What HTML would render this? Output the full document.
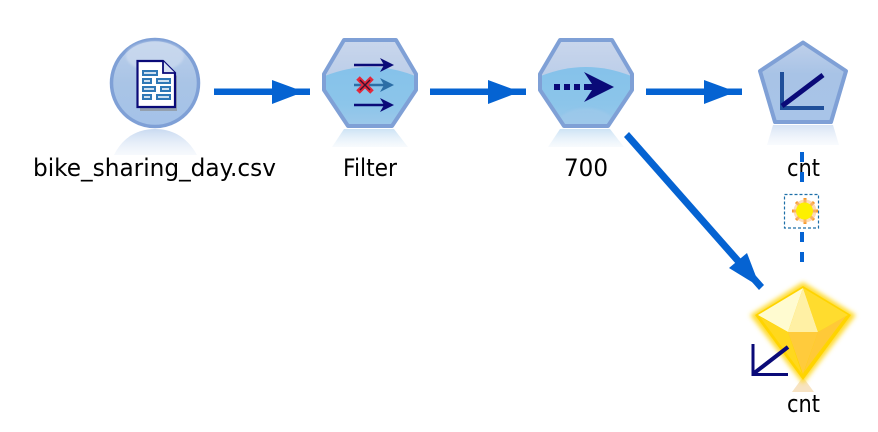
<!DOCTYPE html>
<html>
<head>
<meta charset="utf-8">
<style>
html,body{margin:0;padding:0;background:#fff;width:878px;height:432px;overflow:hidden}
svg{display:block}
text{font-family:"DejaVu Sans","Liberation Sans",sans-serif;font-size:24px;fill:#000;text-anchor:start}
</style>
</head>
<body>
<svg width="878" height="432" viewBox="0 0 878 432" xmlns="http://www.w3.org/2000/svg">
<defs>
  <linearGradient id="circ" x1="0" y1="0" x2="0" y2="1">
    <stop offset="0" stop-color="#bccfea"/><stop offset="0.5" stop-color="#a9c4e6"/><stop offset="1" stop-color="#a4c2e8"/>
  </linearGradient>
  <linearGradient id="hexTop" x1="0" y1="0" x2="0" y2="1">
    <stop offset="0" stop-color="#c9d6ec"/><stop offset="1" stop-color="#aac3e4"/>
  </linearGradient>
  <linearGradient id="hexLow" x1="0" y1="0" x2="0" y2="1">
    <stop offset="0" stop-color="#85c2ea"/><stop offset="0.6" stop-color="#8cc5ea"/><stop offset="1" stop-color="#a0c9ea"/>
  </linearGradient>
  <linearGradient id="pent" x1="0" y1="0" x2="0" y2="1">
    <stop offset="0" stop-color="#bfd0ea"/><stop offset="0.4" stop-color="#a8c3e6"/><stop offset="1" stop-color="#a8c4e8"/>
  </linearGradient>
  <linearGradient id="refl" x1="0" y1="0" x2="0" y2="1">
    <stop offset="0" stop-color="#c6d8f0" stop-opacity=".95"/><stop offset="1" stop-color="#eaf1fa" stop-opacity=".4"/>
  </linearGradient>
  <linearGradient id="refl2" x1="0" y1="0" x2="0" y2="1">
    <stop offset="0" stop-color="#c8e0f4" stop-opacity=".9"/><stop offset="1" stop-color="#eef5fb" stop-opacity=".45"/>
  </linearGradient>
  <filter id="glow" x="-30%" y="-30%" width="160%" height="160%"><feGaussianBlur stdDeviation="2.500"/></filter>
  <filter id="soft" x="-30%" y="-30%" width="160%" height="160%"><feGaussianBlur stdDeviation="1"/></filter>
  <clipPath id="hexClip"><polygon points="344,40 396,40 416,74 416,90 392,126 348,126 324,90 324,74"/></clipPath>
  <clipPath id="hexClip2"><polygon points="560,40 612,40 632,74 632,90 608,126 564,126 540,90 540,74"/></clipPath>
</defs>

<!-- Source node -->
<path d="M114,155 C124,135 140,129 155,129 C170,129 186,135 197,155 Z" fill="url(#refl)"/>
<circle cx="155" cy="83" r="43.500" fill="url(#circ)" stroke="#7fa0d6" stroke-width="3.500"/>
<ellipse cx="155" cy="56" rx="29" ry="15" fill="#d4e0f2" opacity=".55" filter="url(#soft)"/>
<polygon points="138,62 163,62 175,74 175,109 138,109" fill="#888" transform="translate(2,2)" opacity=".6"/>
<polygon points="137.500,61 163,61 175,73 175,107 137.500,107" fill="#fff" stroke="#0a0a78" stroke-width="2.200"/>
<polyline points="163,61 163,73 175,73" fill="#d7e2f2" stroke="#0a0a78" stroke-width="1.800"/>
<g fill="#cfe0f0" stroke="#2f78b6" stroke-width="2">
  <rect x="143" y="71" width="14" height="4"/>
  <rect x="143" y="79" width="8" height="4"/>
  <rect x="157" y="79" width="13" height="4"/>
  <rect x="143" y="87" width="12" height="4"/>
  <rect x="161" y="87" width="9" height="4"/>
  <rect x="143" y="95" width="8" height="4"/>
  <rect x="157" y="95" width="13" height="4"/>
</g>

<!-- Filter node -->
<polygon points="344,129 394,129 408,147 332,147" fill="url(#refl2)"/>
<polygon points="344,40 396,40 416,74 416,90 392,126 348,126 324,90 324,74" fill="url(#hexTop)"/>
<g clip-path="url(#hexClip)">
  <path d="M320,78 Q370,56 420,78 L420,130 L320,130 Z" fill="url(#hexLow)"/>
</g>
<polygon points="344,40 396,40 416,74 416,90 392,126 348,126 324,90 324,74" fill="none" stroke="#7fa0d6" stroke-width="4" stroke-linejoin="round"/>
<g stroke="#0a0a78" stroke-width="2.400" fill="none">
  <line x1="354" y1="65" x2="386" y2="65"/>
  <line x1="354" y1="105" x2="386" y2="105"/>
</g>
<g fill="#0a0a78">
  <polygon points="380,58 394,65 380,72 384,65"/>
  <polygon points="380,98 394,105 380,112 384,105"/>
</g>
<line x1="354" y1="85" x2="386" y2="85" stroke="#2c6ea6" stroke-width="2.400"/>
<polygon points="380,78 394,85 380,92 384,85" fill="#2c6ea6"/>
<g stroke="#e3283c" stroke-width="5">
  <line x1="358" y1="78" x2="372" y2="92"/>
  <line x1="372" y1="78" x2="358" y2="92"/>
</g>
<g stroke="#3a1030" stroke-width="1.400">
  <line x1="360" y1="80" x2="370" y2="90"/>
  <line x1="370" y1="80" x2="360" y2="90"/>
</g>

<!-- 700 node -->
<polygon points="560,129 610,129 624,147 548,147" fill="url(#refl2)"/>
<polygon points="560,40 612,40 632,74 632,90 608,126 564,126 540,90 540,74" fill="url(#hexTop)"/>
<g clip-path="url(#hexClip2)">
  <path d="M536,78 Q586,56 636,78 L636,130 L536,130 Z" fill="url(#hexLow)"/>
  <ellipse cx="586" cy="124" rx="28" ry="16" fill="#a0c9ea" opacity=".6" filter="url(#soft)"/>
</g>
<polygon points="560,40 612,40 632,74 632,90 608,126 564,126 540,90 540,74" fill="none" stroke="#7fa0d6" stroke-width="4" stroke-linejoin="round"/>
<g fill="#0a0a78">
  <rect x="554" y="84" width="6" height="6"/>
  <rect x="564" y="84" width="6" height="6"/>
  <rect x="574" y="84" width="6" height="6"/>
  <polygon points="584,72 614,87 584,102 592,90 584,90 584,84 592,84"/>
</g>

<!-- Chart node -->
<polygon points="773,125 833,125 839,145 767,145" fill="url(#refl)" opacity=".75"/>
<polygon points="803,42.500 846,71 831,122 775,122 760,71" fill="url(#pent)" stroke="#7fa0d6" stroke-width="4" stroke-linejoin="round"/>
<g fill="none">
  <line x1="782" y1="72" x2="782" y2="110" stroke="#1f4f9a" stroke-width="4"/>
  <line x1="780" y1="108" x2="824" y2="108" stroke="#1f4f9a" stroke-width="4"/>
  <line x1="782" y1="106" x2="823" y2="75" stroke="#0a0a78" stroke-width="5"/>
</g>

<!-- Labels -->
<text x="33" y="176" textLength="243" lengthAdjust="spacingAndGlyphs">bike_sharing_day.csv</text>
<text x="343" y="176" textLength="54" lengthAdjust="spacingAndGlyphs">Filter</text>
<text x="564" y="176" textLength="44" lengthAdjust="spacingAndGlyphs">700</text>
<text x="787" y="176" textLength="33" lengthAdjust="spacingAndGlyphs">cnt</text>
<text x="787" y="412" textLength="33" lengthAdjust="spacingAndGlyphs">cnt</text>

<!-- Connectors -->
<g fill="#0563d2">
  <rect x="214" y="88.500" width="96" height="6.500"/>
  <polygon points="272,80 304,91.750 272,104"/>
  <rect x="430" y="88.500" width="96" height="6.500"/>
  <polygon points="488,80 520,91.750 488,104"/>
  <rect x="646" y="88.500" width="96" height="6.500"/>
  <polygon points="704,80 736,91.750 704,104"/>
  <polygon points="624,137 629,132 764,285 759,290"/>
  <polygon points="729,268 747,253 760,287"/>
  <rect x="800" y="152" width="4" height="10"/>
  <rect x="800" y="172" width="4" height="10"/>
  <rect x="800" y="232" width="4" height="10"/>
  <rect x="800" y="252" width="4" height="10"/>
</g>

<!-- Breakpoint box and star -->
<rect x="784.500" y="194.500" width="34" height="33.500" fill="#fff" stroke="#1d6fa8" stroke-width="1.200" stroke-dasharray="3 2"/>
<g stroke="#f79a2a" stroke-width="3">
  <line x1="805" y1="198" x2="805" y2="224"/>
  <line x1="792" y1="211" x2="818" y2="211"/>
  <line x1="796" y1="202" x2="814" y2="220"/>
  <line x1="814" y1="202" x2="796" y2="220"/>
</g>
<circle cx="805" cy="211" r="11.500" fill="#fbc48a" opacity=".6"/>
<circle cx="804.500" cy="211" r="8.500" fill="#fdf000"/>

<!-- Gem node -->
<polygon points="803,377 792,392 814,392" fill="#f7e3c3"/>
<polygon points="803,282 750,315 803,384 856,315" fill="#ffdc30" filter="url(#glow)"/>
<polygon points="803,286 755,315 803,380 851,315" fill="#ffd400"/>
<polygon points="803,288 758,315 788,332" fill="#fffbd0"/>
<polygon points="803,288 788,332 818,332" fill="#fff0a4"/>
<polygon points="803,288 818,332 848,315" fill="#ffdc2e"/>
<polygon points="788,332 818,332 803,374" fill="#ffcb3c"/>
<polygon points="818,332 846,316 804,372" fill="#ffc938"/>
<polygon points="788,332 760,317 802,374" fill="#ffd81e"/>

<!-- Small chart on gem -->
<g fill="none">
  <line x1="753" y1="344" x2="753" y2="376" stroke="#0a0a78" stroke-width="3"/>
  <line x1="752" y1="374.500" x2="788" y2="374.500" stroke="#0a0a78" stroke-width="3"/>
  <line x1="753" y1="374" x2="788" y2="347" stroke="#0a0a78" stroke-width="4"/>
</g>
</svg>
</body>
</html>
